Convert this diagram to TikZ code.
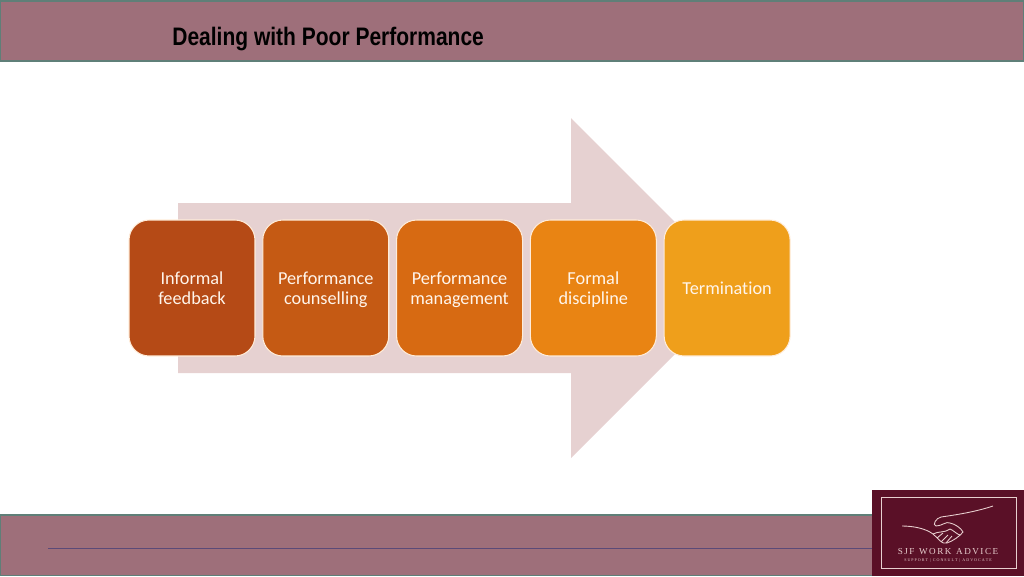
\documentclass[tikz,border=0pt]{standalone}
\usepackage{fontspec}
\setmainfont[Ligatures=NoCommon]{Carlito}
\newfontfamily\titlefont[FakeStretch=0.83]{Liberation Sans}
\newfontfamily\logofont{Liberation Serif}
\usetikzlibrary{positioning}
\definecolor{bandfill}{HTML}{9E6F7A}
\definecolor{bandline}{HTML}{5F7F78}
\definecolor{ruleline}{HTML}{5B4A78}
\definecolor{arrowfill}{HTML}{E6D1D1}
\definecolor{logofill}{HTML}{5A1027}
\definecolor{logoline}{HTML}{E8CFCF}
\definecolor{stepa}{HTML}{B54A16}
\definecolor{stepb}{HTML}{C55A14}
\definecolor{stepc}{HTML}{D76A12}
\definecolor{stepd}{HTML}{E98413}
\definecolor{stepe}{HTML}{EF9F1B}
\tikzset{
	stepbox/.style={draw=white!85!orange, line width=.6pt, rounded corners=.4cm, minimum width=2.52cm, minimum height=2.72cm,
		inner sep=0pt, align=center, text=white!92!orange, font=\fontsize{10.4}{11.34}\selectfont},
	band/.style={draw=bandline, line width=.8pt, fill=bandfill},
	hand/.style={draw=logoline, line width=.5pt}
}
\begin{document}
\begin{tikzpicture}[x=.02cm,y=-.02cm]
	\useasboundingbox (0,0) rectangle (1024,576);
	% header and footer
	\draw [band] (0,1) rectangle (1024,61);
	\draw [band] (0,515) rectangle (874,575.5);
	\node (title) [anchor=west, inner sep=0pt, font=\titlefont\bfseries\fontsize{14.4}{16}\selectfont] at (172,39) {Dealing with Poor Performance};
	\coordinate (rulestart) at (48,548);
	\coordinate (ruleend) at (872,548);
	\draw [color=ruleline, line width=.5pt] (rulestart)--(ruleend);
	% big arrow
	\fill [arrowfill] (178,203)--(571,203)--(571,118)--(741,288)--(571,458)--(571,373)--(178,373)--cycle;
	% steps
	\node (S1) [stepbox, fill=stepa] at (192,288) {Informal\\feedback};
	\node (S2) [stepbox, fill=stepb, right=.135cm of S1] {Performance\\\smash{counselling}};
	\node (S3) [stepbox, fill=stepc, right=.135cm of S2] {Performance\\\smash{management}};
	\node (S4) [stepbox, fill=stepd, right=.135cm of S3] {Formal\\\smash{discipline}};
	\node (S5) [stepbox, fill=stepe, right=.135cm of S4] {Termination};
	% logo
	\fill [logofill] (872,490) rectangle (1024,576);
	\draw [draw=logoline, line width=.5pt] (881,497) rectangle (1016,568);
	\draw [hand] (902,526) .. controls (912,526) and (925,528) .. (933,534) .. controls (938,538) and (942,545) .. (947,543) .. controls (953,541) and (960,536) .. (963,532) .. controls (961,528) and (955,524) .. (950,523) .. controls (946,521) and (942,526) .. (936,526) .. controls (932,525) and (936,518) .. (941,517) .. controls (955,515) and (975,512) .. (993,506);
	\draw [hand] (933,534) .. controls (938,531) and (945,533) .. (950,529) .. controls (953,530) and (958,535) .. (960,535);
	\draw [hand] (937,538) -- (943,533) (941,542) -- (948,535) (946,543) -- (952,536);
	\node (logoname) [text=logoline, inner sep=0pt, font=\logofont\fontsize{5.2}{6}\selectfont] at (948,552) {S\,J\,F\ \ W\,O\,R\,K\ \ A\,D\,V\,I\,C\,E};
	\node (logotag) [text=logoline, inner sep=0pt, below=.06cm of logoname, font=\logofont\fontsize{2.3}{3}\selectfont] {S U P P O R T\ \ |\ \ C O N S U L T\ \ |\ \ A D V O C A T E};
\end{tikzpicture}
\end{document}
